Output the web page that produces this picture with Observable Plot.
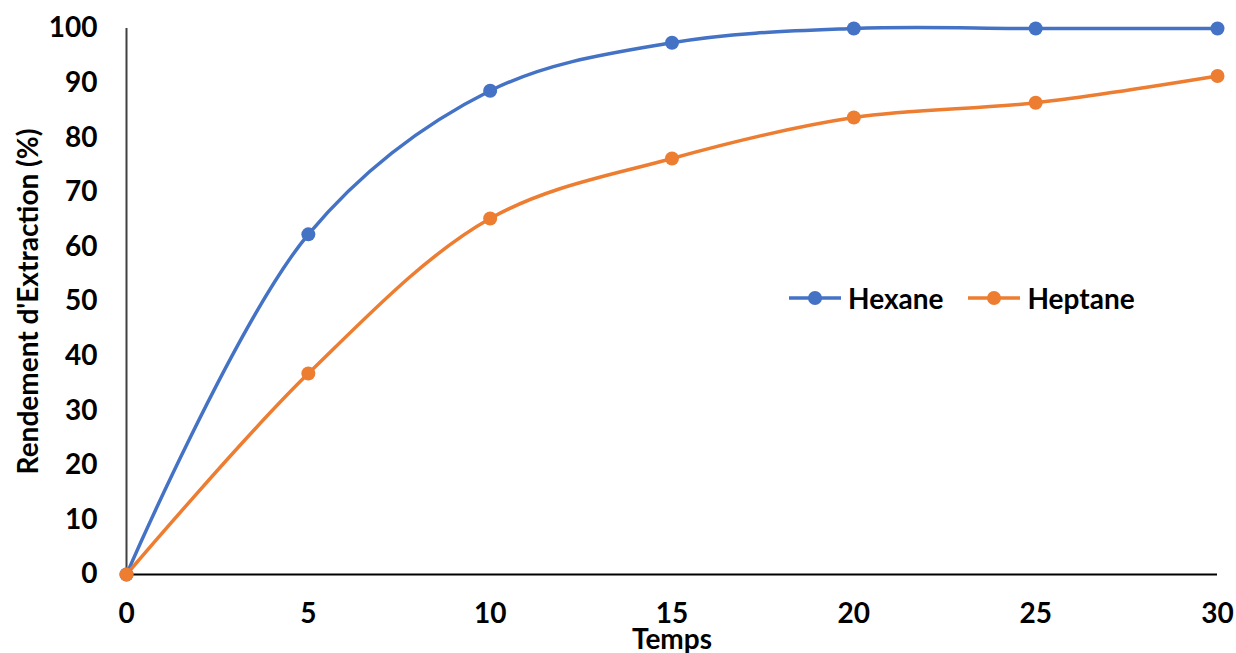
<!DOCTYPE html>
<html>
<head>
<meta charset="utf-8">
<script src="https://cdn.jsdelivr.net/npm/d3@7"></script>
<script src="https://cdn.jsdelivr.net/npm/@observablehq/plot@0.6"></script>
<style>
  html, body { margin: 0; padding: 0; background: #fff; }
  #wrap { position: relative; width: 1236px; height: 653px; font-family: Lato, "Open Sans", sans-serif; }
  #legend { position: absolute; top: 281px; left: 788px; display: flex; align-items: center; font-weight: bold; font-size: 28px; color: #000; }
  #legend .item { display: flex; align-items: center; margin-right: 24px; }
  #legend svg { margin-right: 6px; }
</style>
</head>
<body>
<div id="wrap"><div id="legend"></div></div>
<script>
// Extraction time (Temps) and yields (%) for each solvent
const temps = [0, 5, 10, 15, 20, 25, 30];
const hexane = [0, 62.3, 88.6, 97.4, 100, 100, 100];
const heptane = [0, 36.8, 65.2, 76.2, 83.7, 86.4, 91.3];
const series = ["Hexane", "Heptane"];
const colors = ["#4472C4", "#ED7D31"];
const yTicks = [0, 10, 20, 30, 40, 50, 60, 70, 80, 90, 100];
const xTicks = [0, 5, 10, 15, 20, 25, 30];

const rows = [
  ...temps.map((t, i) => ({temps: t, value: hexane[i], solvent: "Hexane"})),
  ...temps.map((t, i) => ({temps: t, value: heptane[i], solvent: "Heptane"}))
];

const chart = Plot.plot({
  width: 1236,
  height: 653,
  marginLeft: 126,
  marginRight: 19,
  marginTop: 28,
  marginBottom: 79,
  style: {fontFamily: "Lato, 'Open Sans', sans-serif", fontWeight: "bold", fontSize: "28px", color: "#000"},
  x: {domain: [0, 30]},
  y: {domain: [0, 100]},
  color: {domain: series, range: colors},
  marks: [
    Plot.axisY({ticks: yTicks, tickSize: 0, tickPadding: 29, fontSize: 28, fontWeight: "bold",
      label: "Rendement d'Extraction (%)", labelAnchor: "center", labelArrow: "none", labelOffset: 108}),
    Plot.axisX({ticks: xTicks, tickSize: 0, tickPadding: 29, fontSize: 28, fontWeight: "bold", label: null}),
    Plot.text(["Temps"], {frameAnchor: "bottom", dy: 74, fontSize: 28, fontWeight: "bold", fill: "#000"}),
    Plot.ruleX([0], {stroke: "#404040", strokeWidth: 2}),
    Plot.ruleY([0], {stroke: "#000", strokeWidth: 2}),
    Plot.line(rows, {x: "temps", y: "value", z: "solvent", stroke: "solvent", strokeWidth: 3.5, curve: "catmull-rom"}),
    Plot.dot(rows, {x: "temps", y: "value", fill: "solvent", r: 7})
  ]
});
document.getElementById("wrap").prepend(chart);
chart.style.display = "block";

// Legend entries: line with a dot in the middle, then the series name
const legend = document.getElementById("legend");
series.forEach((name, i) => {
  const item = document.createElement("div");
  item.className = "item";
  item.innerHTML = `<svg width="54" height="20"><line x1="1" x2="53" y1="10" y2="10" stroke="${colors[i]}" stroke-width="3.5"/><circle cx="27" cy="10" r="7" fill="${colors[i]}"/></svg><span>${name}</span>`;
  legend.appendChild(item);
});
</script>
</body>
</html>
